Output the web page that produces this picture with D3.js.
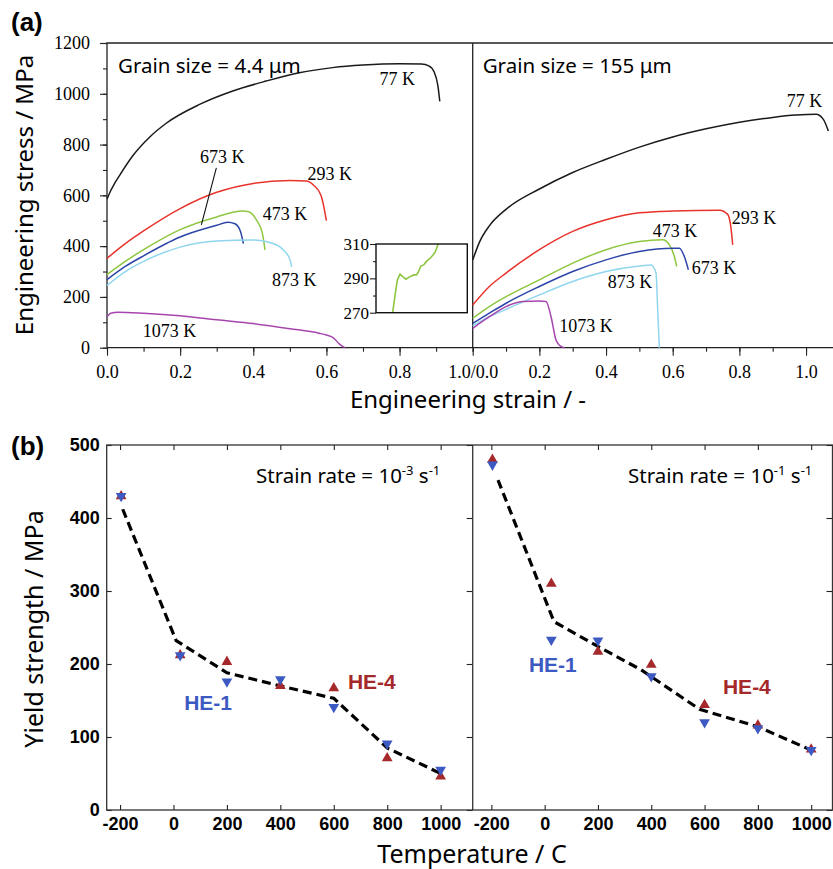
<!DOCTYPE html>
<html>
<head>
<meta charset="utf-8">
<script src="https://cdn.jsdelivr.net/npm/d3@7"></script>
<style>
  body { margin: 0; background: #fff; }
  svg { display: block; }
</style>
</head>
<body>
<script>
// ---- (a) tensile curves, [strain, stress MPa] ----
const curveTemps = ['77 K', '293 K', '473 K', '673 K', '873 K', '1073 K'];

const fine77 = [[0,585],[0.01,618],[0.02,645],[0.035,680],[0.07,755],[0.117,830],[0.162,884],[0.253,958],[0.344,1011],[0.435,1050],[0.526,1083],[0.617,1103],[0.7,1113],[0.8,1118],[0.86,1117],[0.88,1110],[0.895,1085],[0.905,1030],[0.91,970]];
const fine293 = [[0,352],[0.05,410],[0.1,460],[0.2,548],[0.3,612],[0.4,647],[0.5,658],[0.545,657],[0.565,640],[0.585,600],[0.595,540],[0.6,500]];
const fine473 = [[0,288],[0.05,340],[0.1,386],[0.2,465],[0.3,515],[0.37,538],[0.385,536],[0.41,500],[0.425,450],[0.432,385]];
const fine673 = [[0,268],[0.05,320],[0.1,362],[0.2,436],[0.3,482],[0.33,494],[0.35,488],[0.365,458],[0.373,410]];
const fine873 = [[0,245],[0.05,300],[0.1,340],[0.2,396],[0.3,420],[0.4,424],[0.45,412],[0.48,388],[0.5,348],[0.505,318]];
const fine1073 = [[0,122],[0.01,136],[0.03,140],[0.1,136],[0.2,126],[0.3,110],[0.4,95],[0.5,75],[0.58,57],[0.6,50],[0.62,38],[0.635,15],[0.65,0]];

const coarse77 = [[0,345],[0.02,415],[0.05,480],[0.1,545],[0.2,625],[0.3,690],[0.4,742],[0.5,790],[0.6,830],[0.7,862],[0.8,888],[0.9,907],[0.97,916],[1.03,919],[1.052,899],[1.067,853]];
const coarse293 = [[0,168],[0.05,241],[0.1,294],[0.2,386],[0.3,458],[0.4,504],[0.5,531],[0.6,538],[0.74,541],[0.765,525],[0.775,470],[0.78,405]];
const coarse473 = [[0,116],[0.05,162],[0.1,201],[0.2,267],[0.3,333],[0.4,386],[0.5,418],[0.57,425],[0.59,405],[0.605,359],[0.612,320]];
const coarse673 = [[0,96],[0.05,136],[0.1,175],[0.2,241],[0.3,300],[0.4,346],[0.5,379],[0.6,392],[0.62,392],[0.635,359],[0.647,307]];
const coarse873 = [[0,86],[0.05,122],[0.1,151],[0.2,208],[0.3,261],[0.4,300],[0.5,322],[0.535,326],[0.55,294],[0.555,150],[0.56,0]];
const coarse1073 = [[0,76],[0.05,122],[0.1,162],[0.15,182],[0.2,184],[0.22,182],[0.235,122],[0.25,30],[0.26,10],[0.275,0]];

// label anchors in data units
const fineLabelAt = [[0.745,1033],[0.548,662],[0.426,504],[0.254,729],[0.451,244],[0.098,42]];
const coarseLabelAt = [[0.942,946],[0.777,488],[0.54,437],[0.657,291],[0.405,236],[0.26,62]];
const pointer673 = [[0.299,708],[0.258,484]];

// inset: 473 K yield drop, x in fraction of inset width
const insetDrop = [[0.182,270],[0.208,280],[0.234,289],[0.263,292.5],[0.292,291],[0.328,289.5],[0.372,291],[0.416,292],[0.445,292],[0.467,294],[0.489,297],[0.526,298],[0.555,300],[0.599,302],[0.646,305],[0.682,310]];

// ---- (b) yield strength vs temperature ----
const temps = [-196, 25, 200, 400, 600, 800, 1000];
const he4Slow = [430, 212, 203, 170, 167, 71, 46];
const he1Slow = [430, 212, 176, 179, 141, 91, 55];
const he4Fast = [480, 310, 217, 199, 144, 116, 83];
const he1Fast = [473, 233, 232, 183, 120, 112, 82];
const fitSlow = [[-190,412],[10,232],[200,188],[400,170],[600,153],[800,85],[1000,50]];
const fitFast = [[-175,452],[35,258],[200,224],[362,192],[581,138],[800,114],[1019,79]];
const heLabelSlow = [[40,137],[653,166]];
const heLabelFast = [[-59,189],[669,159]];

const curveColors = ['#1a1a1a', '#e8322b', '#8dc63f', '#2b44a8', '#8fd6ee', '#a646ad'];
const red = '#a5282b', blue = '#3d5ac2';
const serif = "'Liberation Serif','Times New Roman',serif";
const sans = "'Noto Sans','Open Sans',sans-serif";
const boldSans = "'Liberation Sans',Arial,sans-serif";

const svg = d3.select('body').append('svg').attr('width', 833).attr('height', 869);

function styleAxis(g, font, size, weight) {
  g.select('.domain').remove();
  g.selectAll('.tick line').attr('stroke', '#222').attr('stroke-width', 1.1);
  g.selectAll('.tick text').attr('fill', '#000')
    .style('font-family', font).style('font-size', size + 'px').style('font-weight', weight || 'normal');
}

// ================= panel (a) =================
const yS = d3.scaleLinear().domain([0, 1200]).range([347.7, 43]);
const xFine = d3.scaleLinear().domain([0, 1]).range([107, 472.7]);
const xCoarse = d3.scaleLinear().domain([0, 1.08]).range([472.7, 832.7]);
const f1 = d3.format('.1f');

svg.append('g').attr('transform', 'translate(0,347.7)')
  .call(d3.axisBottom(xFine).tickValues(d3.range(0, 1.001, 0.1)).tickSize(4).tickFormat(''))
  .call(g => styleAxis(g, serif, 18));
svg.append('g').attr('transform', 'translate(0,347.7)')
  .call(d3.axisBottom(xFine).tickValues([0, 0.2, 0.4, 0.6, 0.8, 1]).tickSize(8).tickPadding(9.5)
    .tickFormat(d => d === 1 ? '1.0/0.0' : f1(d)))
  .call(g => styleAxis(g, serif, 18));
svg.append('g').attr('transform', 'translate(0,347.7)')
  .call(d3.axisBottom(xCoarse).tickValues(d3.range(0, 1.08, 0.1)).tickSize(4).tickFormat(''))
  .call(g => styleAxis(g, serif, 18));
svg.append('g').attr('transform', 'translate(0,347.7)')
  .call(d3.axisBottom(xCoarse).tickValues([0.2, 0.4, 0.6, 0.8, 1]).tickSize(8).tickPadding(9.5).tickFormat(f1))
  .call(g => styleAxis(g, serif, 18));
svg.append('g').attr('transform', 'translate(107,0)')
  .call(d3.axisLeft(yS).tickValues(d3.range(0, 1201, 100)).tickSize(4).tickFormat(''))
  .call(g => styleAxis(g, serif, 18));
svg.append('g').attr('transform', 'translate(107,0)')
  .call(d3.axisLeft(yS).tickValues(d3.range(0, 1201, 200)).tickSize(7).tickPadding(10).tickFormat(d => String(d)))
  .call(g => styleAxis(g, serif, 18));

const frameA = svg.append('g').attr('stroke', '#222').attr('stroke-width', 1.3).attr('fill', 'none');
frameA.append('path').attr('d', `M${xFine(0)},${yS(0)}V${yS(1200)}H833`);
frameA.append('path').attr('d', `M${xFine(0)},${yS(0)}H833`);
frameA.append('path').attr('d', `M${xCoarse(0)},${yS(0)}V${yS(1200)}`);

function drawCurves(curves, x, labelAt) {
  const line = d3.line().x(d => x(d[0])).y(d => yS(d[1])).curve(d3.curveMonotoneX);
  svg.append('g').selectAll('path').data(curves).join('path')
    .attr('d', line).attr('fill', 'none')
    .attr('stroke', (d, i) => curveColors[i]).attr('stroke-width', 1.5);
  svg.append('g').selectAll('text').data(labelAt).join('text')
    .attr('x', d => x(d[0])).attr('y', d => yS(d[1]))
    .style('font-family', serif).style('font-size', '18px')
    .text((d, i) => curveTemps[i]);
}
drawCurves([fine77, fine293, fine473, fine673, fine873, fine1073], xFine, fineLabelAt);
drawCurves([coarse77, coarse293, coarse473, coarse673, coarse873, coarse1073], xCoarse, coarseLabelAt);

svg.append('path')
  .attr('d', d3.line().x(d => xFine(d[0])).y(d => yS(d[1]))(pointer673))
  .attr('stroke', '#111').attr('stroke-width', 1.1).attr('fill', 'none');

svg.append('text').attr('x', xFine(0.03)).attr('y', yS(1080))
  .style('font-family', sans).style('font-size', '20.5px').text('Grain size = 4.4 \u03bcm');
svg.append('text').attr('x', xCoarse(0.03)).attr('y', yS(1080))
  .style('font-family', sans).style('font-size', '20.5px').text('Grain size = 155 \u03bcm');

// inset
const xI = d3.scaleLinear().domain([0, 1]).range([376, 467.3]);
const yI = d3.scaleLinear().domain([270, 310]).range([312.7, 244]);
svg.append('g').attr('transform', 'translate(376,0)')
  .call(d3.axisLeft(yI).tickValues([280, 300]).tickSize(3).tickFormat(''))
  .call(g => styleAxis(g, serif, 17));
svg.append('g').attr('transform', 'translate(376,0)')
  .call(d3.axisLeft(yI).tickValues([270, 290, 310]).tickSize(6).tickPadding(1))
  .call(g => styleAxis(g, serif, 17));
svg.append('path')
  .attr('d', d3.line().x(d => xI(d[0])).y(d => yI(d[1]))(insetDrop))
  .attr('stroke', curveColors[2]).attr('stroke-width', 1.6).attr('fill', 'none');
svg.append('rect').attr('x', xI(0)).attr('y', yI(310))
  .attr('width', xI(1) - xI(0)).attr('height', yI(270) - yI(310))
  .attr('fill', 'none').attr('stroke', '#111').attr('stroke-width', 1.4);

// titles (a)
svg.append('text').attr('x', 468).attr('y', 408).attr('text-anchor', 'middle')
  .style('font-family', sans).style('font-size', '24px').text('Engineering strain / -');
svg.append('text').attr('transform', 'translate(33,195) rotate(-90)').attr('text-anchor', 'middle')
  .style('font-family', sans).style('font-size', '24px').text('Engineering stress / MPa');
svg.append('text').attr('x', 11).attr('y', 31)
  .style('font-family', boldSans).style('font-weight', 'bold').style('font-size', '26px').text('(a)');

// ================= panel (b) =================
const yB = d3.scaleLinear().domain([0, 500]).range([810, 445]);
const xSlow = d3.scaleLinear().domain([-250, 1120]).range([106.7, 472.7]);
const xFast = d3.scaleLinear().domain([-270, 1080]).range([472.7, 832.5]);
const tTicks = [-200, 0, 200, 400, 600, 800, 1000];

[xSlow, xFast].forEach(x => {
  svg.append('g').attr('transform', 'translate(0,810)')
    .call(d3.axisBottom(x).tickValues(tTicks).tickSizeInner(-5).tickSizeOuter(0).tickPadding(7).tickFormat(d => String(d)))
    .call(g => styleAxis(g, boldSans, 18, 'bold'));
  svg.append('g').attr('transform', 'translate(0,445)')
    .call(d3.axisTop(x).tickValues(tTicks).tickSize(-5).tickFormat(''))
    .call(g => styleAxis(g, boldSans, 18));
});
svg.append('g').attr('transform', 'translate(106.7,0)')
  .call(d3.axisLeft(yB).ticks(5).tickSizeInner(-5).tickSizeOuter(0).tickPadding(7))
  .call(g => styleAxis(g, boldSans, 18, 'bold'));
svg.append('g').attr('transform', 'translate(472.7,0)')
  .call(d3.axisRight(yB).ticks(5).tickSize(-6).tickFormat(''))
  .call(g => styleAxis(g, boldSans, 18));
svg.append('g').attr('transform', 'translate(832.5,0)')
  .call(d3.axisRight(yB).ticks(5).tickSize(-6).tickFormat(''))
  .call(g => styleAxis(g, boldSans, 18));

const frameB = svg.append('g').attr('stroke', '#333').attr('stroke-width', 1.3).attr('fill', 'none');
frameB.append('rect').attr('x', 106.7).attr('y', 445).attr('width', 832.5 - 106.7).attr('height', 365);
frameB.append('path').attr('d', `M472.7,445V810`);

function drawYield(x, fit, he4, he1, labelAt) {
  svg.append('path')
    .attr('d', d3.line().x(d => x(d[0])).y(d => yB(d[1]))(fit))
    .attr('fill', 'none').attr('stroke', '#000').attr('stroke-width', 3.2)
    .attr('stroke-dasharray', '9,5');
  const tri = d3.symbol(d3.symbolTriangle, 50);
  svg.append('g').selectAll('path').data(temps).join('path')
    .attr('transform', (t, i) => `translate(${x(t)},${yB(he4[i])})`)
    .attr('d', tri).attr('fill', red);
  svg.append('g').selectAll('path').data(temps).join('path')
    .attr('transform', (t, i) => `translate(${x(t)},${yB(he1[i])}) rotate(180)`)
    .attr('d', tri).attr('fill', blue);
  svg.append('text').attr('x', x(labelAt[0][0])).attr('y', yB(labelAt[0][1]))
    .attr('fill', blue).style('font-family', boldSans).style('font-weight', 'bold').style('font-size', '21px')
    .text('HE-1');
  svg.append('text').attr('x', x(labelAt[1][0])).attr('y', yB(labelAt[1][1]))
    .attr('fill', red).style('font-family', boldSans).style('font-weight', 'bold').style('font-size', '21px')
    .text('HE-4');
}
drawYield(xSlow, fitSlow, he4Slow, he1Slow, heLabelSlow);
drawYield(xFast, fitFast, he4Fast, he1Fast, heLabelFast);

function rateLabel(x0, exp) {
  const t = svg.append('text').attr('x', x0).attr('y', 483)
    .style('font-family', sans).style('font-size', '20.5px');
  t.append('tspan').text('Strain rate = 10');
  t.append('tspan').attr('dy', -8).style('font-size', '13px').text(exp);
  t.append('tspan').attr('dy', 8).text(' s');
  t.append('tspan').attr('dy', -8).style('font-size', '13px').text('-1');
}
rateLabel(256, '-3');
rateLabel(628, '-1');

svg.append('text').attr('x', 472).attr('y', 863).attr('text-anchor', 'middle')
  .style('font-family', sans).style('font-size', '25px').text('Temperature / C');
svg.append('text').attr('transform', 'translate(43,629) rotate(-90)').attr('text-anchor', 'middle')
  .style('font-family', sans).style('font-size', '25px').text('Yield strength / MPa');
svg.append('text').attr('x', 11).attr('y', 455)
  .style('font-family', boldSans).style('font-weight', 'bold').style('font-size', '26px').text('(b)');
</script>
</body>
</html>
